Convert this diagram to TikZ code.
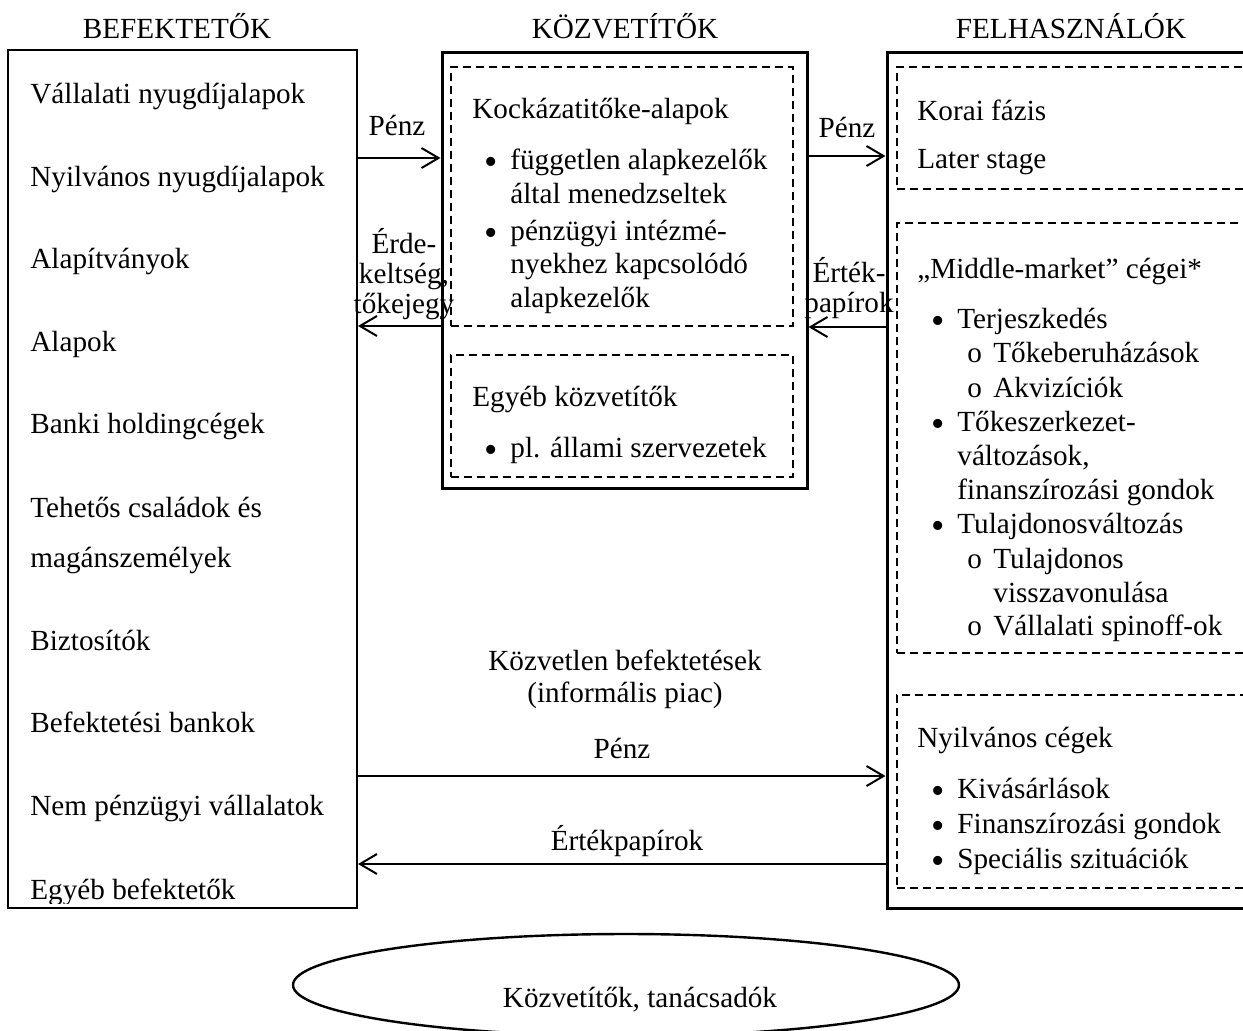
\documentclass[tikz,border=0pt]{standalone}
\usepackage{fontspec}
\setmainfont{Liberation Serif}
\usepackage{tikz}
\usetikzlibrary{shapes.geometric, arrows.meta, positioning, fit}
\definecolor{ink}{HTML}{000000}
\newcommand{\itemdot}{\makebox[12pt][l]{\smash{\raisebox{-2.6pt}{\fontsize{19}{19}\selectfont •}}}}
\newcommand{\subdot}{\makebox[13pt][l]{o}}

\begin{document}
\begin{tikzpicture}[x=0.5pt, y=-0.5pt,
  every node/.style={font=\fontsize{14.6}{15}\selectfont, text=ink, inner sep=0pt},
  heading/.style={anchor=base},
  entry/.style={anchor=base west},
  block/.style={anchor=base west, align=left, font=\fontsize{14.6}{16.7}\selectfont},
  flowtext/.style={anchor=base, align=center},
  sidebox/.style={draw=ink, line width=1pt},
  mainbox/.style={draw=ink, line width=1.5pt},
  groupbox/.style={draw=ink, line width=1pt, dash pattern=on 4pt off 2.5pt},
  flow/.style={draw=ink, line width=1pt, -{Straight Barb[length=8.5pt, width=10pt]}}]
\useasboundingbox (0,0) rectangle (1243,1030);
\clip (0,0) rectangle (1243,1030);

% Columns
\node[heading] (tinv) at (177,38) {BEFEKTETŐK};
\node[heading] (tmed) at (625,38) {KÖZVETÍTŐK};
\node[heading] (tuse) at (1071,38) {FELHASZNÁLÓK};
\node[sidebox, fit={(8,50) (357,908)}] (investors) {};
\node[mainbox, fit={(442,52) (807,488)}] (brokers) {};
\node[mainbox, fit={(887,52) (1262,908)}] (users) {};

% Investors
\begin{scope}
\clip (8,50) rectangle (357,903);
\node[entry] (inv1) at (30,103) {Vállalati nyugdíjalapok};
\node[entry] (inv2) at (30,186) {Nyilvános nyugdíjalapok};
\node[entry] (inv3) at (30,268) {Alapítványok};
\node[entry] (inv4) at (30,351) {Alapok};
\node[entry] (inv5) at (30,433) {Banki holdingcégek};
\node[entry] (inv6) at (30,517) {Tehetős családok és};
\node[entry] (inv6b) at (30,567) {magánszemélyek};
\node[entry] (inv7) at (30,650) {Biztosítók};
\node[entry] (inv8) at (30,732) {Befektetési bankok};
\node[entry] (inv9) at (30,815) {Nem pénzügyi vállalatok};
\node[entry] (inv10) at (30,899) {Egyéb befektetők};
\end{scope}

% Intermediaries
\node[groupbox, fit={(451,67) (793,326)}] (vcfunds) {};
\node[entry] (vc0) at (472,118) {Kockázatitőke-alapok};
\node[block] (vc1) at (484,203) {\itemdot\hspace{1pt}független alapkezelők\\\hspace*{13pt}által menedzseltek};
\node[block] (vc2) at (484,307) {\itemdot\hspace{1pt}pénzügyi intézmé-\\\hspace*{13pt}nyekhez kapcsolódó\\\hspace*{13pt}alapkezelők};
\node[groupbox, fit={(451,355) (793,477)}] (others) {};
\node[entry] (ot0) at (472,406) {Egyéb közvetítők};
\node[entry] (ot1) at (484,457) {\itemdot\hspace{1pt}pl. állami szervezetek};

% Users
\node[groupbox, fit={(897,67) (1262,189)}] (stages) {};
\node[entry] (st1) at (917,120) {Korai fázis};
\node[entry] (st2) at (917,168) {Later stage};
\node[groupbox, fit={(897,223) (1262,653)}] (midmarket) {};
\node[entry] (mm0) at (917,278) {„Middle-market” cégei*};
\node[entry] (mm1) at (931,328) {\itemdot\hspace{1pt}Terjeszkedés};
\node[entry] (mm1a) at (967,362) {\subdot Tőkeberuházások};
\node[entry] (mm1b) at (967,397) {\subdot Akvizíciók};
\node[entry] (mm2) at (931,431) {\itemdot\hspace{1pt}Tőkeszerkezet-};
\node[entry] (mm2b) at (957,465) {változások,};
\node[entry] (mm2c) at (957,499) {finanszírozási gondok};
\node[entry] (mm3) at (931,533) {\itemdot\hspace{1pt}Tulajdonosváltozás};
\node[entry] (mm3a) at (967,568) {\subdot Tulajdonos};
\node[entry] (mm3b) at (993,602) {visszavonulása};
\node[entry] (mm3c) at (967,635) {\subdot Vállalati spinoff-ok};
\node[groupbox, fit={(897,695) (1262,888)}] (public) {};
\node[entry] (pb0) at (917,747) {Nyilvános cégek};
\node[entry] (pb1) at (931,798) {\itemdot\hspace{1pt}Kivásárlások};
\node[entry] (pb2) at (931,833) {\itemdot\hspace{1pt}Finanszírozási gondok};
\node[entry] (pb3) at (931,868) {\itemdot\hspace{1pt}Speciális szituációk};

% Flows
\draw[flow] (investors.east |- 0,158) -- (brokers.west |- 0,158);
\node[flowtext] (f1) at (397,135) {Pénz};
\draw[flow] (brokers.west |- 0,326) -- (investors.east |- 0,326);
\node[flowtext] (f2) at (404,313) {Érde-\\keltség,\\tőkejegy};
\draw[flow] (brokers.east |- 0,156) -- (users.west |- 0,156);
\node[flowtext] (f3) at (847,137) {Pénz};
\draw[flow] (users.west |- 0,327) -- (brokers.east |- 0,327);
\node[flowtext] (f4) at (849,312) {Érték-\\papírok};

% Direct
\node[flowtext, font=\fontsize{14.6}{16}\selectfont] (direct) at (625,702) {Közvetlen befektetések\\(informális piac)};
\draw[flow] (investors.east |- 0,776) -- (users.west |- 0,776);
\node[flowtext] (f5) at (622,758) {Pénz};
\draw[flow] (users.west |- 0,864) -- (investors.east |- 0,864);
\node[flowtext] (f6) at (627,850) {Értékpapírok};

% Advisers
\node[ellipse, draw=ink, line width=1.2pt, minimum width=333pt, minimum height=51pt] (advisers) at (626,985) {};
\node[heading] (advtext) at (640,1007) {Közvetítők, tanácsadók};
\end{tikzpicture}
\end{document}
